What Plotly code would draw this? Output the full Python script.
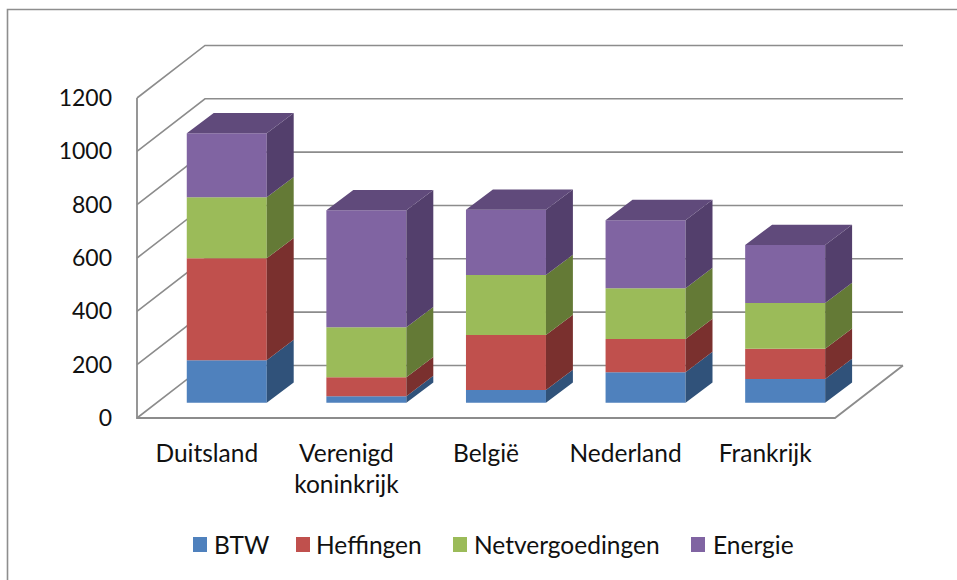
import plotly.graph_objects as go

# Categories and stacked series (bottom to top)
countries = ["Duitsland", "Verenigd<br>koninkrijk", "België", "Nederland", "Frankrijk"]
btw = [160, 25, 48, 115, 89]
heffingen = [382, 71, 206, 124, 114]
netvergoedingen = [229, 187, 225, 191, 171]
energie = [240, 439, 245, 255, 218]
series_names = ["BTW", "Heffingen", "Netvergoedingen", "Energie"]
y_ticks = [0, 200, 400, 600, 800, 1000, 1200]

front_colors = ["#4F81BD", "#C0504D", "#9BBB59", "#8064A2"]
side_colors = ["#30527A", "#7A302E", "#647A36", "#533F6C"]
top_color = "#604A7B"
grid_color = "#8C8C8C"
font_family = "Lato, Carlito, sans-serif"
text_color = "#111111"
label_size = 24.5
value_size = 23

# Oblique projection, in axis units
WALL_DX, WALL_DY = 0.487, 197
BAR_OFF_DX, BAR_OFF_DY = 0.143, 57
BAR_WIDTH = 0.573
SIDE_DX, SIDE_DY = 0.193, 76

# Plot area within the 957x580 page
W, H = 957, 580
LEFT, RIGHT, TOP, BOTTOM = 134, 905, 40, 421
UNIT_X, UNIT_Y = 139.6, 0.26667
FRONT_X0, FRONT_Y0 = 137, 418
x_range = [-0.5 + (LEFT - FRONT_X0) / UNIT_X, -0.5 + (RIGHT - FRONT_X0) / UNIT_X]
y_range = [(FRONT_Y0 - BOTTOM) / UNIT_Y, (FRONT_Y0 - TOP) / UNIT_Y]


def paper_x(px):
    return (px - LEFT) / (RIGHT - LEFT)


def paper_y(px):
    return (BOTTOM - px) / (BOTTOM - TOP)


fig = go.Figure()
positions = list(range(len(countries)))
stacks = [btw, heffingen, netvergoedingen, energie]
running = [BAR_OFF_DY] * len(countries)

for name, values, front, side in zip(series_names, stacks, front_colors, side_colors):
    centers = [p + BAR_OFF_DX for p in positions]
    fig.add_trace(go.Bar(
        x=centers, y=values, base=running, width=BAR_WIDTH, name=name,
        marker=dict(color=front, line=dict(width=0)), showlegend=False,
    ))
    # Receding right-hand faces of this segment
    xs, ys = [], []
    for c, low, v in zip(centers, running, values):
        edge = c + BAR_WIDTH / 2
        xs += [edge, edge + SIDE_DX, edge + SIDE_DX, edge, edge, None]
        ys += [low, low + SIDE_DY, low + v + SIDE_DY, low + v, low, None]
    fig.add_trace(go.Scatter(
        x=xs, y=ys, mode="lines", fill="toself", fillcolor=side,
        line=dict(width=0, color=side), hoverinfo="skip", showlegend=False,
    ))
    running = [r + v for r, v in zip(running, values)]

# Top faces of the full stacks
xs, ys = [], []
for p, total in zip(positions, running):
    left = p + BAR_OFF_DX - BAR_WIDTH / 2
    right = left + BAR_WIDTH
    xs += [left, right, right + SIDE_DX, left + SIDE_DX, left, None]
    ys += [total, total, total + SIDE_DY, total + SIDE_DY, total, None]
fig.add_trace(go.Scatter(
    x=xs, y=ys, mode="lines", fill="toself", fillcolor=top_color,
    line=dict(width=0, color=top_color), hoverinfo="skip", showlegend=False,
))

# Walls and floor of the box, behind the bars
x_front0, x_front1 = -0.5, len(countries) - 0.5
shapes = []
for tick in y_ticks:
    shapes.append(dict(
        type="path", xref="x", yref="y", layer="below",
        path=f"M {x_front0} {tick} L {x_front0 + WALL_DX} {tick + WALL_DY} "
             f"L {x_front1 + WALL_DX} {tick + WALL_DY}",
        line=dict(color=grid_color, width=1.6),
    ))
shapes.append(dict(
    type="path", xref="x", yref="y", layer="below",
    path=f"M {x_front0} {y_ticks[-1]} L {x_front0} 0 L {x_front1} 0 "
         f"L {x_front1 + WALL_DX} {WALL_DY}",
    line=dict(color=grid_color, width=1.8),
))

# Chart frame, open towards the right and bottom edges
shapes.append(dict(
    type="path", xref="paper", yref="paper", layer="below",
    path=f"M {paper_x(7.5)} {paper_y(H + 5)} L {paper_x(7.5)} {paper_y(9.5)} "
         f"L {paper_x(W + 5)} {paper_y(9.5)}",
    line=dict(color="#8E8E8E", width=1.6),
))

# Legend row: swatch and label per series
swatch_lefts = [193, 296, 453, 691]
label_lefts = [214, 316, 474, 713]
annotations = []
for name, color, sx, lx in zip(series_names, front_colors, swatch_lefts, label_lefts):
    shapes.append(dict(
        type="rect", xref="paper", yref="paper",
        x0=paper_x(sx), x1=paper_x(sx + 14), y0=paper_y(552), y1=paper_y(537),
        fillcolor=color, line=dict(width=0),
    ))
    annotations.append(dict(
        text=name, xref="paper", yref="paper", x=paper_x(lx), y=paper_y(544),
        xanchor="left", yanchor="middle", showarrow=False, xshift=-2,
        font=dict(family=font_family, size=label_size, color=text_color),
    ))

fig.update_layout(
    width=W, height=H, autosize=False,
    margin=dict(l=LEFT, r=W - RIGHT, t=TOP, b=H - BOTTOM, pad=0),
    paper_bgcolor="white", plot_bgcolor="white",
    barmode="overlay", showlegend=False,
    shapes=shapes, annotations=annotations,
    font=dict(family=font_family, size=label_size, color=text_color),
    xaxis=dict(
        range=x_range, tickmode="array", tickvals=positions, ticktext=countries,
        showgrid=False, zeroline=False, showline=False, ticks="",
        ticklabelstandoff=15, tickangle=0,
        tickfont=dict(family=font_family, size=label_size, color=text_color),
    ),
    yaxis=dict(
        range=y_range, tickmode="array", tickvals=y_ticks,
        showgrid=False, zeroline=False, showline=False, ticks="",
        ticklabelstandoff=21,
        tickfont=dict(family=font_family, size=value_size, color=text_color),
    ),
)

fig.write_html("out.html")
